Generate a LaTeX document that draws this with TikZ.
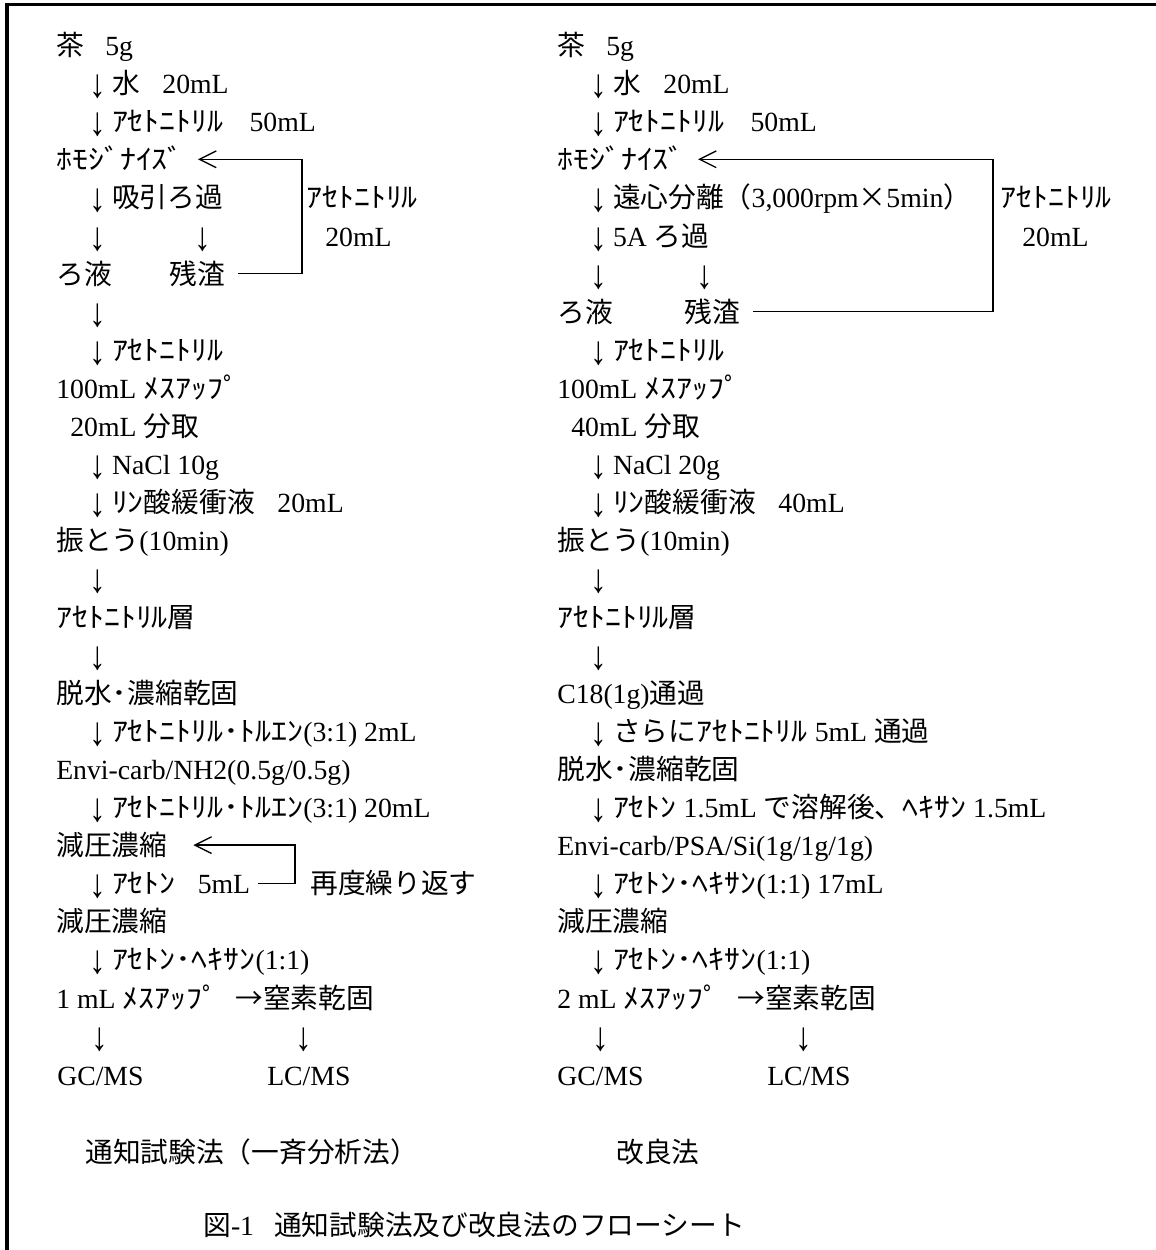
\documentclass[tikz,border=0pt]{standalone}
\usepackage{fontspec}
\setmainfont{Liberation Serif}
\newfontfamily\jpf{Noto Sans CJK JP}
\usetikzlibrary{arrows.meta}
\newcommand\jtx[1]{{\jpf #1}}
\newcommand\hkn[1]{{\jpf\scalebox{1.15}[1]{#1}}}
\newcommand\dn{\makebox[20.8pt]{\raisebox{-3pt}{\scalebox{1.2}[1.45]{↓}}}}
\newcommand\rowy[1]{45+38.1*#1}
\newcommand\px{0.75pt}
\begin{document}
\begin{tikzpicture}[x=0.75pt,y=-0.75pt,
  tx/.style={anchor=west,inner sep=0pt,text height=18.3pt,text depth=2.5pt,font=\fontsize{20.8pt}{25pt}\selectfont},
  fb/.style={line width=1pt,line join=miter},
  >={Straight Barb[length=12.5pt,width=12.5pt]}]
\useasboundingbox (0,0) rectangle (1156,1250);
\draw[line width=2.3pt,line join=miter] (7,1260) -- (7,4.7) -- (1166,4.7);

% ---------------- left column ----------------
\node[tx] (l0) at (56,{\rowy{0}}) {\jtx{茶}\hspace{16pt}5g};
\node[tx] (l1) at (84,{\rowy{1}}) {\dn\jtx{水}\hspace{17pt}20mL};
\node[tx] (l2) at (84,{\rowy{2}}) {\dn\hkn{ｱｾﾄﾆﾄﾘﾙ}\hspace{19.5pt}50mL};
\node[tx] (homoL) at (56,{\rowy{3}}) {\hkn{ﾎﾓｼﾞﾅｲｽﾞ}};
\node[tx] (l4) at (84,{\rowy{4}}) {\dn\jtx{吸引ろ過}};
\node[tx] (l5a) at (84,{\rowy{5}}) {\dn};
\node[tx] (l5b) at (189,{\rowy{5}}) {\dn};
\node[tx] (l6a) at (56,{\rowy{6}}) {\jtx{ろ液}};
\node[tx] (zanL) at (169,{\rowy{6}}) {\jtx{残渣}};
\node[tx] (labL1) at (306,{\rowy{4}}) {\hkn{ｱｾﾄﾆﾄﾘﾙ}};
\node[tx] (labL2) at (325,{\rowy{5}}) {20mL};
\node[tx] (l7) at (84,{\rowy{7}}) {\dn};
\node[tx] (l8) at (84,{\rowy{8}}) {\dn\hkn{ｱｾﾄﾆﾄﾘﾙ}};
\node[tx] (l9) at (56,{\rowy{9}}) {100mL \hkn{ﾒｽｱｯﾌﾟ}};
\node[tx] (l10) at (70,{\rowy{10}}) {20mL \jtx{分取}};
\node[tx] (l11) at (84,{\rowy{11}}) {\dn NaCl 10g};
\node[tx] (l12) at (84,{\rowy{12}}) {\dn\hkn{ﾘﾝ}\jtx{酸緩衝液}\hspace{17pt}20mL};
\node[tx] (l13) at (56,{\rowy{13}}) {\jtx{振とう}(10min)};
\node[tx] (l14) at (84,{\rowy{14}}) {\dn};
\node[tx] (l15) at (56,{\rowy{15}}) {\hkn{ｱｾﾄﾆﾄﾘﾙ}\jtx{層}};
\node[tx] (l16) at (84,{\rowy{16}}) {\dn};
\node[tx] (l17) at (56,{\rowy{17}}) {\jtx{脱水}\hkn{･}\jtx{濃縮乾固}};
\node[tx] (l18) at (84,{\rowy{18}}) {\dn\hkn{ｱｾﾄﾆﾄﾘﾙ･ﾄﾙｴﾝ}(3:1) 2mL};
\node[tx] (l19) at (56,{\rowy{19}}) {Envi-carb/NH2(0.5g/0.5g)};
\node[tx] (l20) at (84,{\rowy{20}}) {\dn\hkn{ｱｾﾄﾆﾄﾘﾙ･ﾄﾙｴﾝ}(3:1) 20mL};
\node[tx] (genL) at (56,{\rowy{21}}) {\jtx{減圧濃縮}};
\node[tx] (acL) at (84,{\rowy{22}}) {\dn\hkn{ｱｾﾄﾝ}\hspace{16.5pt}5mL};
\node[tx] (againL) at (310,{\rowy{22}}) {\jtx{再度繰り返す}};
\node[tx] (l23) at (56,{\rowy{23}}) {\jtx{減圧濃縮}};
\node[tx] (l24) at (84,{\rowy{24}}) {\dn\hkn{ｱｾﾄﾝ･ﾍｷｻﾝ}(1:1)};
\node[tx] (l25a) at (56,{\rowy{25}}) {1 mL \hkn{ﾒｽｱｯﾌﾟ}};
\node[tx] (l25b) at (235,{\rowy{25}}) {\jtx{→窒素乾固}};
\node[tx] (l26a) at (86,{\rowy{26}}) {\dn};
\node[tx] (l26b) at (290,{\rowy{26}}) {\dn};
\node[tx] (gcL) at (57,1075) {GC/MS};
\node[tx] (lcL) at (267,1075) {LC/MS};

% ---------------- right column ----------------
\node[tx] (r0) at (557,{\rowy{0}}) {\jtx{茶}\hspace{16pt}5g};
\node[tx] (r1) at (585,{\rowy{1}}) {\dn\jtx{水}\hspace{17pt}20mL};
\node[tx] (r2) at (585,{\rowy{2}}) {\dn\hkn{ｱｾﾄﾆﾄﾘﾙ}\hspace{19.5pt}50mL};
\node[tx] (homoR) at (557,{\rowy{3}}) {\hkn{ﾎﾓｼﾞﾅｲｽﾞ}};
\node[tx] (r4) at (585,{\rowy{4}}) {\dn\jtx{遠心分離（}3,000rpm\jtx{×}5min\jtx{）}};
\node[tx] (r5) at (585,{\rowy{5}}) {\dn 5A \jtx{ろ過}};
\node[tx] (r6a) at (585,{\rowy{6}}) {\dn};
\node[tx] (r6b) at (691,{\rowy{6}}) {\dn};
\node[tx] (r7a) at (557,{\rowy{7}}) {\jtx{ろ液}};
\node[tx] (zanR) at (684,{\rowy{7}}) {\jtx{残渣}};
\node[tx] (labR1) at (1000,{\rowy{4}}) {\hkn{ｱｾﾄﾆﾄﾘﾙ}};
\node[tx] (labR2) at (1022,{\rowy{5}}) {20mL};
\node[tx] (r8) at (585,{\rowy{8}}) {\dn\hkn{ｱｾﾄﾆﾄﾘﾙ}};
\node[tx] (r9) at (557,{\rowy{9}}) {100mL \hkn{ﾒｽｱｯﾌﾟ}};
\node[tx] (r10) at (571,{\rowy{10}}) {40mL \jtx{分取}};
\node[tx] (r11) at (585,{\rowy{11}}) {\dn NaCl 20g};
\node[tx] (r12) at (585,{\rowy{12}}) {\dn\hkn{ﾘﾝ}\jtx{酸緩衝液}\hspace{17pt}40mL};
\node[tx] (r13) at (557,{\rowy{13}}) {\jtx{振とう}(10min)};
\node[tx] (r14) at (585,{\rowy{14}}) {\dn};
\node[tx] (r15) at (557,{\rowy{15}}) {\hkn{ｱｾﾄﾆﾄﾘﾙ}\jtx{層}};
\node[tx] (r16) at (585,{\rowy{16}}) {\dn};
\node[tx] (r17) at (557,{\rowy{17}}) {C18(1g)\jtx{通過}};
\node[tx] (r18) at (585,{\rowy{18}}) {\dn\jtx{さらに}\hkn{ｱｾﾄﾆﾄﾘﾙ} 5mL \jtx{通過}};
\node[tx] (r19) at (557,{\rowy{19}}) {\jtx{脱水}\hkn{･}\jtx{濃縮乾固}};
\node[tx] (r20) at (585,{\rowy{20}}) {\dn\hkn{ｱｾﾄﾝ} 1.5mL \jtx{で溶解後、}\hkn{ﾍｷｻﾝ} 1.5mL};
\node[tx] (r21) at (557,{\rowy{21}}) {Envi-carb/PSA/Si(1g/1g/1g)};
\node[tx] (r22) at (585,{\rowy{22}}) {\dn\hkn{ｱｾﾄﾝ･ﾍｷｻﾝ}(1:1) 17mL};
\node[tx] (r23) at (557,{\rowy{23}}) {\jtx{減圧濃縮}};
\node[tx] (r24) at (585,{\rowy{24}}) {\dn\hkn{ｱｾﾄﾝ･ﾍｷｻﾝ}(1:1)};
\node[tx] (r25a) at (557,{\rowy{25}}) {2 mL \hkn{ﾒｽｱｯﾌﾟ}};
\node[tx] (r25b) at (737,{\rowy{25}}) {\jtx{→窒素乾固}};
\node[tx] (r26a) at (587,{\rowy{26}}) {\dn};
\node[tx] (r26b) at (790,{\rowy{26}}) {\dn};
\node[tx] (gcR) at (557,1075) {GC/MS};
\node[tx] (lcR) at (767,1075) {LC/MS};

% ---------------- captions ----------------
\node[tx] (capL) at (85,1152) {\jtx{通知試験法（一斉分析法）}};
\node[tx] (capR) at (616,1152) {\jtx{改良法}};
\node[tx] (title) at (203,1225) {\jtx{図}-1\hspace{15pt}\jtx{通知試験法及び改良法のフローシート}};

% ---------------- feedback loops ----------------
\coordinate (cL1) at (302,{\rowy{6}});
\coordinate (cR1) at (993,{\rowy{7}});
\coordinate (cL2) at (295,{\rowy{22}});
\draw[fb,<-] ([xshift=14*\px]homoL.east) -| (cL1) -- ([xshift=13*\px]zanL.east);
\draw[fb,<-] ([xshift=13*\px]homoR.east) -| (cR1) -- ([xshift=13*\px]zanR.east);
\draw[fb,<-] ([xshift=26*\px]genL.east) -| (cL2) -- ([xshift=8*\px]acL.east);
\end{tikzpicture}
\end{document}
